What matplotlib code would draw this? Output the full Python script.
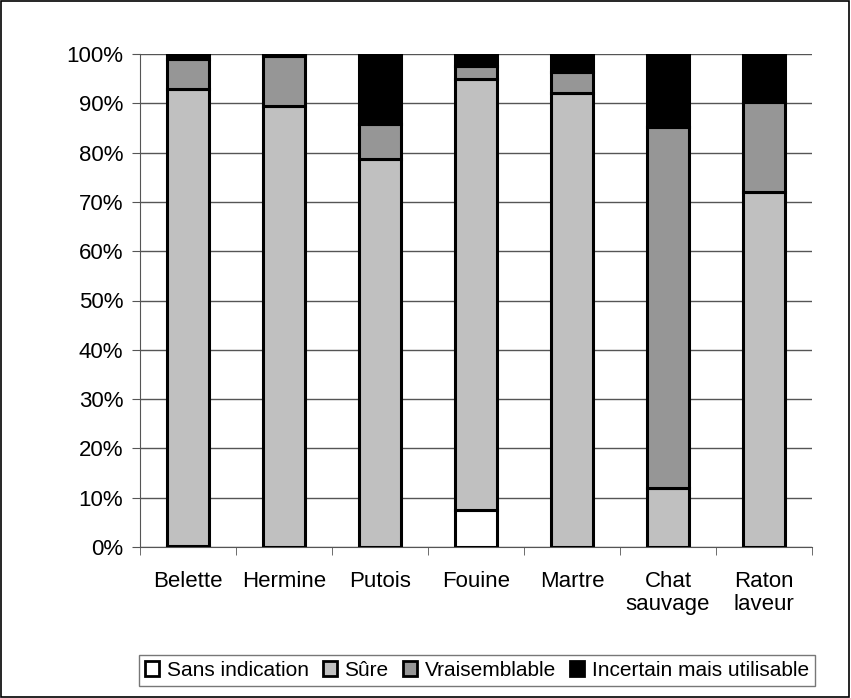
import numpy as np
import matplotlib.pyplot as plt
from matplotlib.patches import Rectangle, Patch

categories = ['Belette', 'Hermine', 'Putois', 'Fouine', 'Martre', 'Chat\nsauvage', 'Raton\nlaveur']
sans_indication = [0.3, 0.0, 0.0, 7.5, 0.0, 0.0, 0.0]
sure = [92.7, 89.4, 78.7, 87.5, 92.0, 12.0, 72.0]
vraisemblable = [6.0, 10.2, 7.0, 2.5, 4.4, 73.1, 18.3]
incertain = [1.0, 0.4, 14.3, 2.5, 3.6, 14.9, 9.7]

series = [('Sans indication', sans_indication, 'white'),
          ('Sûre', sure, '#c0c0c0'),
          ('Vraisemblable', vraisemblable, '#969696'),
          ('Incertain mais utilisable', incertain, 'black')]

plt.rcParams['font.family'] = ['Liberation Sans', 'DejaVu Sans']
plt.rcParams['font.size'] = 16

fig = plt.figure(figsize=(8.51, 6.98), dpi=100)
ax = fig.add_axes([140 / 851, 1 - 547 / 698, 672 / 851, 493 / 698])

x = np.arange(len(categories))
bottom = np.zeros(len(categories))
for name, vals, col in series:
    ax.bar(x, vals, width=0.43, bottom=bottom, color=col, edgecolor='black',
           linewidth=2.2, label=name, zorder=3)
    bottom += np.array(vals)

ax.set_xlim(-0.5, len(categories) - 0.5)
ax.set_ylim(0, 100)
ax.set_yticks(np.arange(0, 101, 10))
ax.set_yticklabels([f'{v}%' for v in range(0, 101, 10)])
ax.yaxis.grid(True, color='#555555', linewidth=1)
ax.set_axisbelow(True)

ax.set_xticks(x)
ax.set_xticklabels(categories, va='top', linespacing=1.15)
ax.set_xticks(np.arange(-0.5, len(categories), 1), minor=True)
ax.tick_params(axis='x', which='major', length=0, pad=17)
ax.tick_params(axis='x', which='minor', length=6, direction='out', color='#555555')
ax.tick_params(axis='y', length=6, direction='out', color='#555555', pad=6)

for s in ['top', 'right']:
    ax.spines[s].set_visible(False)
ax.spines['left'].set_color('#555555')
ax.spines['bottom'].set_color('#555555')

handles = [Patch(facecolor=c, edgecolor='black', linewidth=2, label=n) for n, _, c in series]
leg = fig.legend(handles=handles, loc='lower center', ncol=4, fontsize=15,
                 bbox_to_anchor=(477 / 851, 1 - 686 / 698), frameon=True,
                 fancybox=False, edgecolor='#555555', handlelength=0.67,
                 handleheight=0.67, handletextpad=0.35, columnspacing=0.7,
                 borderpad=0.3, borderaxespad=0)
leg.get_frame().set_linewidth(1)

fig.patches.append(Rectangle((0.001, 0.001), 0.997, 0.997, transform=fig.transFigure,
                             fill=False, edgecolor='black', linewidth=1.2))

fig.savefig('out.png', dpi=100)
